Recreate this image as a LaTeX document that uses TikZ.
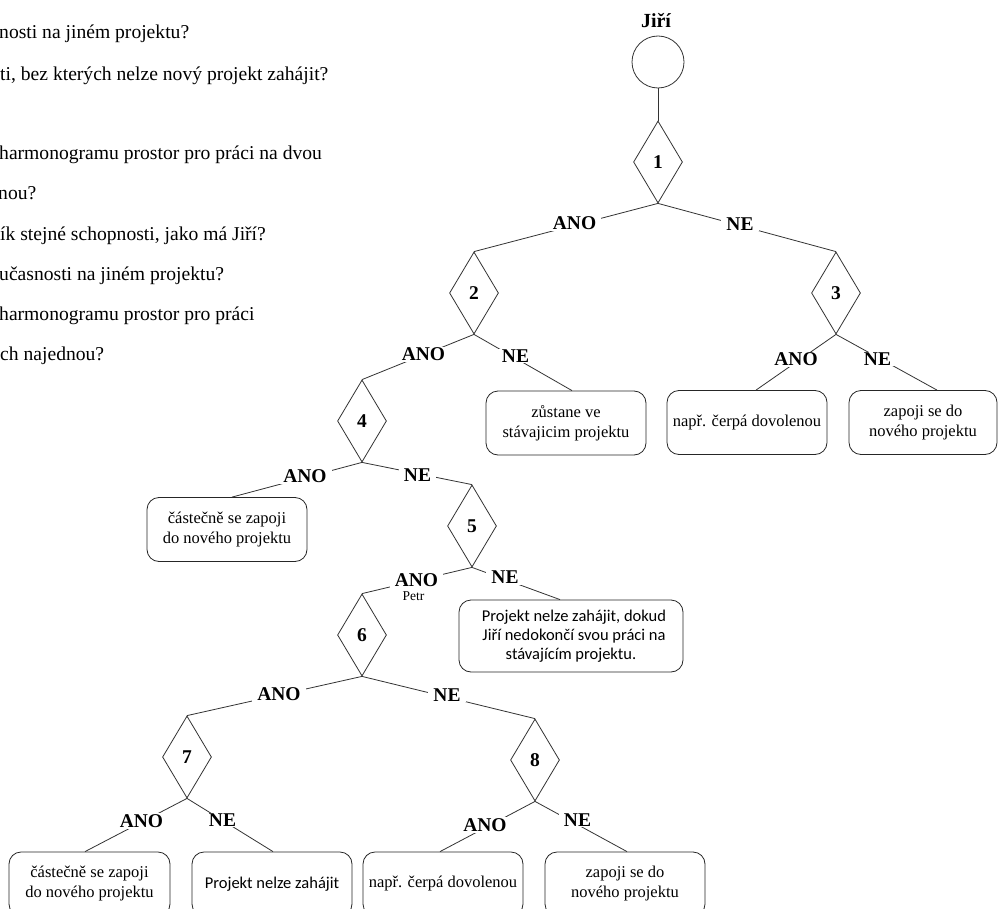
\documentclass[tikz,border=0pt]{standalone}
\usepackage{fontspec}
\setmainfont{Liberation Serif}
\newfontfamily\calib{Carlito}
\usetikzlibrary{shapes.geometric}

\tikzset{
  conn/.style={draw=black!80, line width=0.8pt},
  decision/.style={diamond, draw=black!80, line width=0.8pt, fill=white,
    minimum width=49pt, minimum height=82pt, inner sep=0pt,
    font=\bfseries\fontsize{19.5}{20}\selectfont},
  outcome/.style={rectangle, rounded corners=12pt, draw=black!85, line width=0.8pt,
    fill=white, align=center, inner sep=0pt, minimum width=160pt, minimum height=64pt,
    font=\fontsize{16.5}{20}\selectfont},
  outcomesans/.style={outcome, font=\calib\fontsize{16.5}{19}\selectfont},
  answer/.style={fill=white, inner xsep=5pt, inner ysep=1pt,
    font=\bfseries\fontsize{19.5}{20}\selectfont},
  qline/.style={anchor=base west, inner sep=0pt, font=\fontsize{19.6}{20}\selectfont},
  person/.style={draw=black!80, line width=0.8pt, circle, minimum size=52pt, inner sep=0pt},
}

\begin{document}
\begin{tikzpicture}[x=1pt, y=-1pt]
\useasboundingbox (0,0) rectangle (998,909);
\clip (0,0) rectangle (998,909);
\fill[white] (0,0) rectangle (998,909);

% list of questions (left margin)
\node[qline] (q1) at (-1,39)  {nosti na jiném projektu?};
\node[qline] (q2) at (0,81)   {ti, bez kterých nelze nový projekt zahájit?};
\node[qline] (q3) at (-1,160) {harmonogramu prostor pro práci na dvou};
\node[qline] (q4) at (-2,200) {nou?};
\node[qline] (q5) at (0,241)  {ík stejné schopnosti, jako má Jiří?};
\node[qline] (q6) at (-1,280) {učasnosti na jiném projektu?};
\node[qline] (q7) at (-1,320) {harmonogramu prostor pro práci};
\node[qline] (q8) at (0,360)  {ch najednou?};

% start: the person
\node[anchor=base, inner sep=0pt, font=\bfseries\fontsize{20}{20}\selectfont] (name) at (656,28) {Jiří};
\node[person] (p0) at (658,62) {};

% decisions
\node[decision] (d1) at (658,162) {1};
\node[decision] (d2) at (474,293) {2};
\node[decision] (d3) at (836,293) {3};
\node[decision] (d4) at (362,421) {4};
\node[decision] (d5) at (472,526) {5};
\node[decision] (d6) at (362,635) {6};
\node[decision] (d7) at (187,757) {7};
\node[decision] (d8) at (535,760) {8};

% outcomes
\node[outcome] (b2n) at (566,423) {zůstane ve\\stávajicim projektu};
\node[outcome] (b3a) at (747,422.5) {např. čerpá dovolenou};
\node[outcome, minimum width=148pt] (b3n) at (923,422.5) {zapoji se do\\nového projektu};
\node[outcome] (b4a) at (227,529.5) {částečně se zapoji\\do nového projektu};
\node[outcomesans, minimum width=224pt, minimum height=72pt] (b5n) at (571,636)
  {\hspace*{6pt}Projekt nelze zahájit, dokud\\\hspace*{6pt}Jiří nedokončí svou práci na\\stávajícím projektu.};
\node[outcome, minimum width=161pt] (b7a) at (89.5,884) {částečně se zapoji\\do nového projektu};
\node[outcomesans] (b7n) at (272,884) {Projekt nelze zahájit};
\node[outcome] (b8a) at (443,884) {např. čerpá dovolenou};
\node[outcome] (b8n) at (625,884) {zapoji se do\\nového projektu};

% connectors
\draw[conn] (p0.south) -- (d1.north);
\draw[conn] (d1.south) -- (d2.north);
\draw[conn] (d1.south) -- (d3.north);
\draw[conn] (d2.south) -- (d4.north);
\draw[conn] (d2.south) -- ([xshift=6pt]b2n.north);
\draw[conn] (d3.south) -- ([xshift=9pt]b3a.north);
\draw[conn] (d3.south) -- ([xshift=14pt]b3n.north);
\draw[conn] (d4.south) -- ([xshift=5pt]b4a.north);
\draw[conn] (d4.south) -- (d5.north);
\draw[conn] (d5.south) -- (d6.north);
\draw[conn] (d5.south) -- ([xshift=-11pt]b5n.north);
\draw[conn] (d6.south) -- (d7.north);
\draw[conn] (d6.south) -- (d8.north);
\draw[conn] (d7.south) -- ([xshift=-4.5pt]b7a.north);
\draw[conn] (d7.south) -- ([xshift=1pt]b7n.north);
\draw[conn] (d8.south) -- ([xshift=-3pt]b8a.north);
\draw[conn] (d8.south) -- ([xshift=2pt]b8n.north);

% answers on the connectors
\node[answer] (a1) at (574.5,223.5) {ANO};
\node[answer] (n1) at (740,224) {NE};
\node[answer] (a2) at (423.5,354.5) {ANO};
\node[answer] (n2) at (515.5,356) {NE};
\node[answer] (a3) at (796,359.5) {ANO};
\node[answer] (n3) at (877.5,359) {NE};
\node[answer] (a4) at (305,476.5) {ANO};
\node[answer] (n4) at (417.5,475) {NE};
\node[answer] (a5) at (416.5,580) {ANO};
\node[anchor=base, inner sep=0pt, font=\fontsize{13.5}{14}\selectfont] (petr) at (413.5,600) {Petr};
\node[answer] (n5) at (505,577.5) {NE};
\node[answer] (a6) at (279,694) {ANO};
\node[answer] (n6) at (447,695) {NE};
\node[answer] (a7) at (141.5,821) {ANO};
\node[answer] (n7) at (222.5,820) {NE};
\node[answer] (a8) at (485,825) {ANO};
\node[answer] (n8) at (577.5,820) {NE};
\end{tikzpicture}
\end{document}
